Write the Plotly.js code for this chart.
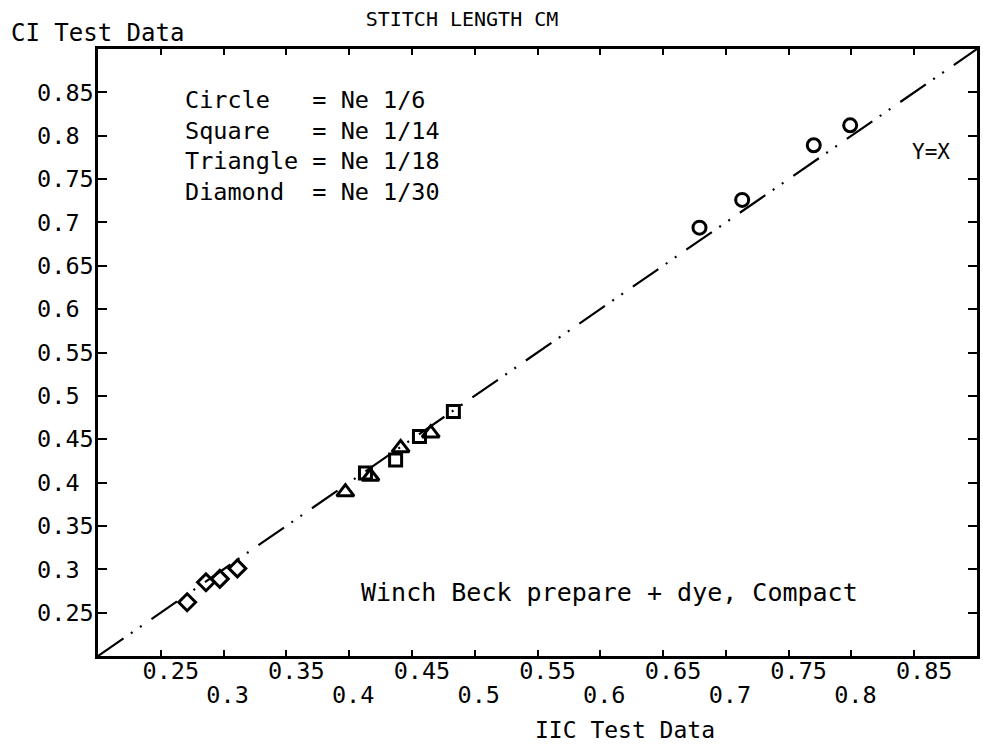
<!DOCTYPE html>
<html>
<head>
<meta charset="utf-8">
<script src="https://cdn.plot.ly/plotly-3.0.1.min.js"></script>
<style>html,body{margin:0;padding:0;background:#fff;}#chart{width:983px;height:744px;}</style>
</head>
<body>
<div id="chart"></div>
<script>
// ---- data ----
const circleX   = [0.679, 0.713, 0.770, 0.799];
const circleY   = [0.694, 0.726, 0.789, 0.812];
const squareX   = [0.413, 0.437, 0.456, 0.483];
const squareY   = [0.411, 0.426, 0.453, 0.482];
const triangleX = [0.397, 0.417, 0.441, 0.465];
const triangleY = [0.389, 0.407, 0.440, 0.457];
const diamondX  = [0.271, 0.286, 0.297, 0.311];
const diamondY  = [0.262, 0.285, 0.289, 0.301];
const refLineX  = [0.2, 0.9];
const refLineY  = [0.2, 0.9];

const xTickRow1 = [0.25, 0.35, 0.45, 0.55, 0.65, 0.75, 0.85];
const xTickRow1Text = ["0.25", "0.35", "0.45", "0.55", "0.65", "0.75", "0.85"];
const xTickRow2 = [0.3, 0.4, 0.5, 0.6, 0.7, 0.8];
const xTickRow2Text = ["0.3", "0.4", "0.5", "0.6", "0.7", "0.8"];
const yTicks = [0.25, 0.3, 0.35, 0.4, 0.45, 0.5, 0.55, 0.6, 0.65, 0.7, 0.75, 0.8, 0.85];
const yTickText = ["0.25", "0.3", "0.35", "0.4", "0.45", "0.5", "0.55", "0.6", "0.65", "0.7", "0.75", "0.8", "0.85"];

const FONT = "DejaVu Sans Mono, monospace";
const pad = s => s + "\u00a0".repeat(Math.max(0, 4 - s.length));

function markerTrace(x, y, symbol, size) {
  return {
    x: x, y: y, type: "scatter", mode: "markers", xaxis: "x", yaxis: "y",
    marker: {symbol: symbol, size: size, color: "#000",
             line: {color: "#000", width: 3}},
    hoverinfo: "skip", showlegend: false
  };
}

const data = [
  {x: refLineX, y: refLineY, type: "scatter", mode: "lines",
   line: {color: "#000", width: 2.2, dash: "31px,9px,2px,9px,2px,12px"},
   hoverinfo: "skip", showlegend: false},
  markerTrace(circleX, circleY, "circle-open", 13),
  markerTrace(squareX, squareY, "square-open", 12),
  markerTrace(triangleX, triangleY, "triangle-up-open", 15),
  markerTrace(diamondX, diamondY, "diamond-open", 13),
  {x: [], y: [], type: "scatter", mode: "markers", xaxis: "x2", yaxis: "y",
   hoverinfo: "skip", showlegend: false}
];

const layout = {
  width: 983, height: 744,
  margin: {l: 98, r: 6, t: 49, b: 88},
  paper_bgcolor: "#fff", plot_bgcolor: "#fff",
  showlegend: false,
  font: {family: FONT, color: "#000", size: 23},
  title: {text: "STITCH LENGTH CM", font: {family: FONT, size: 20, color: "#000"},
          x: 0.47, xref: "container", xanchor: "center",
          y: 0.975, yref: "container", yanchor: "middle"},
  xaxis: {
    range: [0.2, 0.9], showgrid: false, zeroline: false,
    showline: true, linecolor: "#000", linewidth: 2.6, mirror: "ticks",
    ticks: "inside", ticklen: 6, tickwidth: 2, tickcolor: "#000",
    tickmode: "array", tickvals: xTickRow1, ticktext: xTickRow1Text,
    tickfont: {family: FONT, size: 23.5, color: "#000"},
    ticklabelshift: 10, ticklabelstandoff: -8, automargin: false
  },
  xaxis2: {
    overlaying: "x", side: "bottom", anchor: "y", matches: "x",
    range: [0.2, 0.9], showgrid: false, zeroline: false, showline: false,
    mirror: "ticks",
    ticks: "inside", ticklen: 6, tickwidth: 2, tickcolor: "#000",
    tickmode: "array", tickvals: xTickRow2, ticktext: xTickRow2Text,
    tickfont: {family: FONT, size: 23.5, color: "#000"},
    ticklabelshift: 4, ticklabelstandoff: 22, automargin: false
  },
  yaxis: {
    range: [0.2, 0.9], showgrid: false, zeroline: false,
    showline: true, linecolor: "#000", linewidth: 2.6, mirror: "ticks",
    ticks: "inside", ticklen: 9, tickwidth: 2, tickcolor: "#000",
    tickmode: "array", tickvals: yTicks, ticktext: yTickText.map(pad),
    tickfont: {family: FONT, size: 23.5, color: "#000"},
    ticklabelstandoff: -3, automargin: false
  },
  annotations: [
    {text: "CI Test Data", xref: "paper", yref: "paper", x: -0.101, y: 1.027,
     xanchor: "left", yanchor: "middle", showarrow: false,
     font: {family: FONT, size: 24, color: "#000"}},
    {text: "IIC Test Data", xref: "paper", yref: "paper", x: 0.495, y: -0.122,
     xanchor: "left", yanchor: "middle", showarrow: false,
     font: {family: FONT, size: 23, color: "#000"}},
    {text: "Circle\u00a0\u00a0\u00a0= Ne 1/6<br>Square\u00a0\u00a0\u00a0= Ne 1/14<br>Triangle = Ne 1/18<br>Diamond\u00a0\u00a0= Ne 1/30",
     xref: "paper", yref: "paper", x: 0.097, y: 0.841, xanchor: "left", yanchor: "middle",
     align: "left", showarrow: false, font: {family: FONT, size: 23.5, color: "#000"}},
    {text: "Y=X", xref: "paper", yref: "paper", x: 0.948, y: 0.830,
     xanchor: "center", yanchor: "middle", showarrow: false,
     font: {family: FONT, size: 21, color: "#000"}},
    {text: "Winch Beck prepare + dye, Compact", xref: "paper", yref: "paper", x: 0.297, y: 0.104,
     xanchor: "left", yanchor: "middle", showarrow: false,
     font: {family: FONT, size: 25, color: "#000"}}
  ]
};

Plotly.newPlot("chart", data, layout, {staticPlot: true, displayModeBar: false});
</script>
</body>
</html>
